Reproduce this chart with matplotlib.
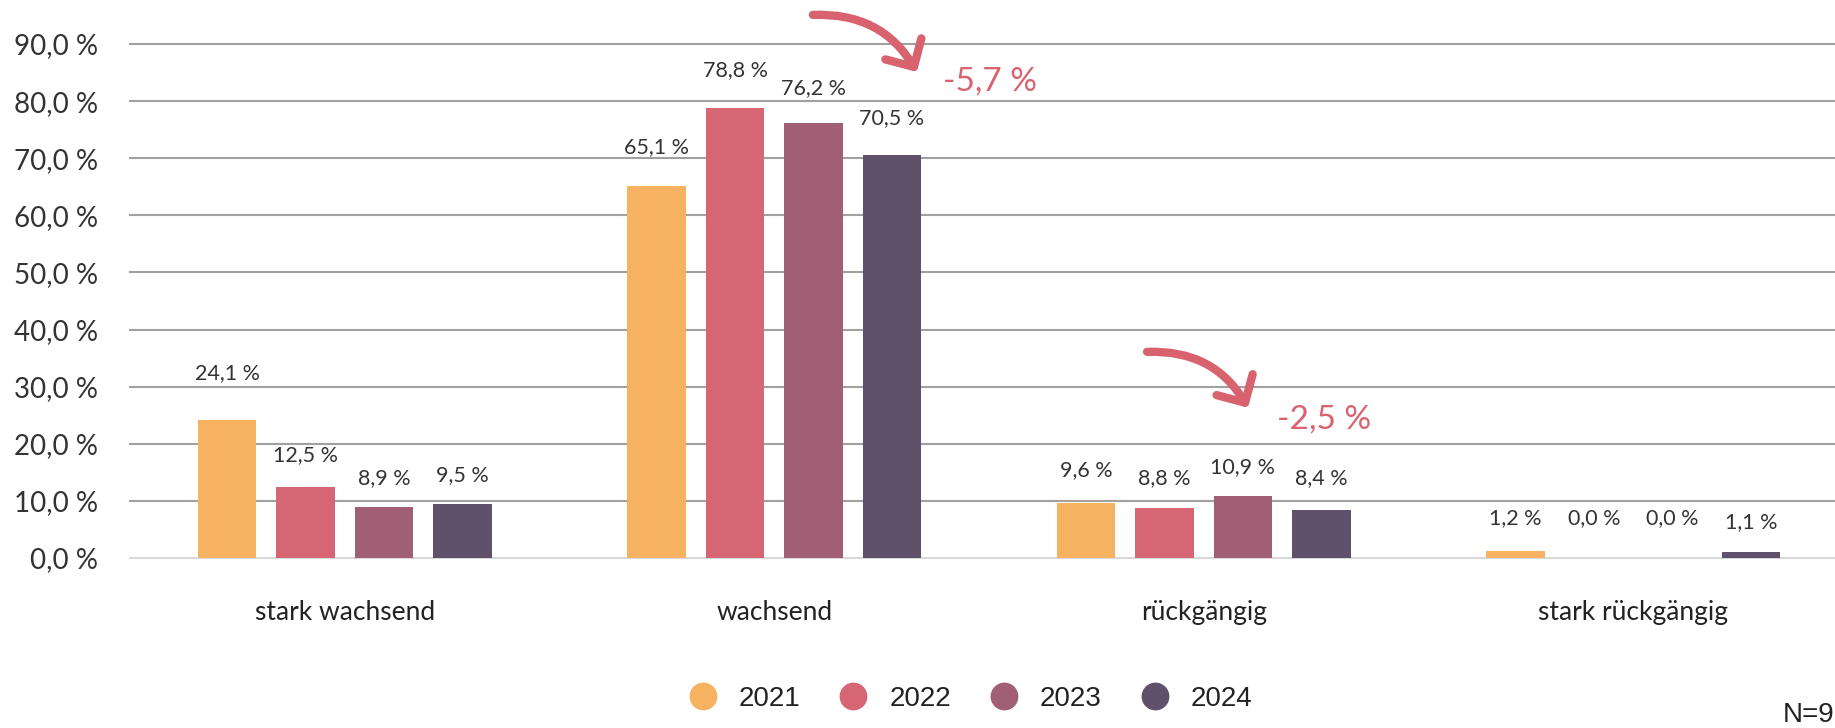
import matplotlib
matplotlib.use("Agg")
import matplotlib.pyplot as plt
from matplotlib.lines import Line2D
import numpy as np

categories = ["stark wachsend", "wachsend", "rückgängig", "stark rückgängig"]
years = ["2021", "2022", "2023", "2024"]
values = {
    "2021": [24.1, 65.1, 9.6, 1.2],
    "2022": [12.5, 78.8, 8.8, 0.0],
    "2023": [8.9, 76.2, 10.9, 0.0],
    "2024": [9.5, 70.5, 8.4, 1.1],
}
changes = ["-5,7 %", "-2,5 %"]
yticks = [0, 10, 20, 30, 40, 50, 60, 70, 80, 90]
note = "N=9"

# styles
colors = ["#F6B161", "#D66673", "#A15F75", "#60516B"]
label_lift = {  # vertical lift of value labels above bars (data units)
    "2021": [8.3, 6.9, 5.8, 5.8],
    "2022": [5.5, 6.7, 5.2, 7.0],
    "2023": [5.1, 6.1, 5.0, 7.0],
    "2024": [5.0, 6.6, 5.6, 5.2],
}
accent = "#D8636F"

plt.rcParams["font.family"] = ["Lato", "DejaVu Sans"]

fig = plt.figure(figsize=(18.35, 7.28), dpi=100)
ax = fig.add_axes([130 / 1835, 1 - 558 / 728, 1718 / 1835, 514 / 728])

x = np.arange(len(categories))
pitch = 0.1825
width = 0.136
for i, yr in enumerate(years):
    xs = x + (i - 1.5) * pitch
    ax.bar(xs, values[yr], width=width, color=colors[i], zorder=3, label=yr)
    for xi, v, lift in zip(xs, values[yr], label_lift[yr]):
        ax.text(xi, v + lift, f"{v:.1f} %".replace(".", ","), ha="center", va="center",
                fontsize=15.5, color="#333333", zorder=4)

ax.set_xlim(-0.5, 3.5)
ax.set_ylim(0, 90)
ax.set_yticks(yticks)
ax.set_yticklabels([f"{t:.1f} %".replace(".", ",") for t in yticks], fontsize=20, color="#333333")
ax.tick_params(axis="y", length=0, pad=23)
ax.set_xticks(x)
ax.set_xticklabels(categories, fontsize=19, color="#222222")
ax.tick_params(axis="x", length=0, pad=30)
for s in ax.spines.values():
    s.set_visible(False)
for t in yticks[1:]:
    ax.axhline(t, color="#A0A0A0", lw=1.5, zorder=1, clip_on=False)
ax.axhline(0, color="#D9D9D9", lw=1.5, zorder=1, clip_on=False)

# annotations: decline arrows
arrow_kw = dict(arrowstyle="->,head_length=0.5,head_width=0.5", color=accent, lw=6,
                connectionstyle="arc3,rad=-0.3", capstyle="round", joinstyle="round",
                mutation_scale=30, shrinkA=0, shrinkB=0)
ax.annotate("", xy=(1.332, 85.1), xytext=(1.09, 95.1), arrowprops=arrow_kw, annotation_clip=False)
ax.annotate("", xy=(2.103, 26.3), xytext=(1.868, 36.1), arrowprops=arrow_kw, annotation_clip=False)
ax.text(1.393, 83.4, changes[0], color=accent, fontsize=24, ha="left", va="center")
ax.text(2.17, 24.2, changes[1], color=accent, fontsize=24, ha="left", va="center")

handles = [Line2D([], [], marker="o", linestyle="", markersize=19, color=c) for c in colors]
fig.legend(handles, years, loc="center", bbox_to_anchor=(0.529, 1 - 699 / 728), ncol=4, frameon=False,
           handlelength=1.0, handletextpad=0.8, columnspacing=1.4,
           prop={"family": "Liberation Sans", "size": 20}, labelcolor="#222222")

fig.text(1783 / 1835, 1 - 715 / 728, note, fontsize=20, family="Liberation Sans",
         ha="left", va="center", color="#222222")

fig.savefig("out.png", dpi=100)
